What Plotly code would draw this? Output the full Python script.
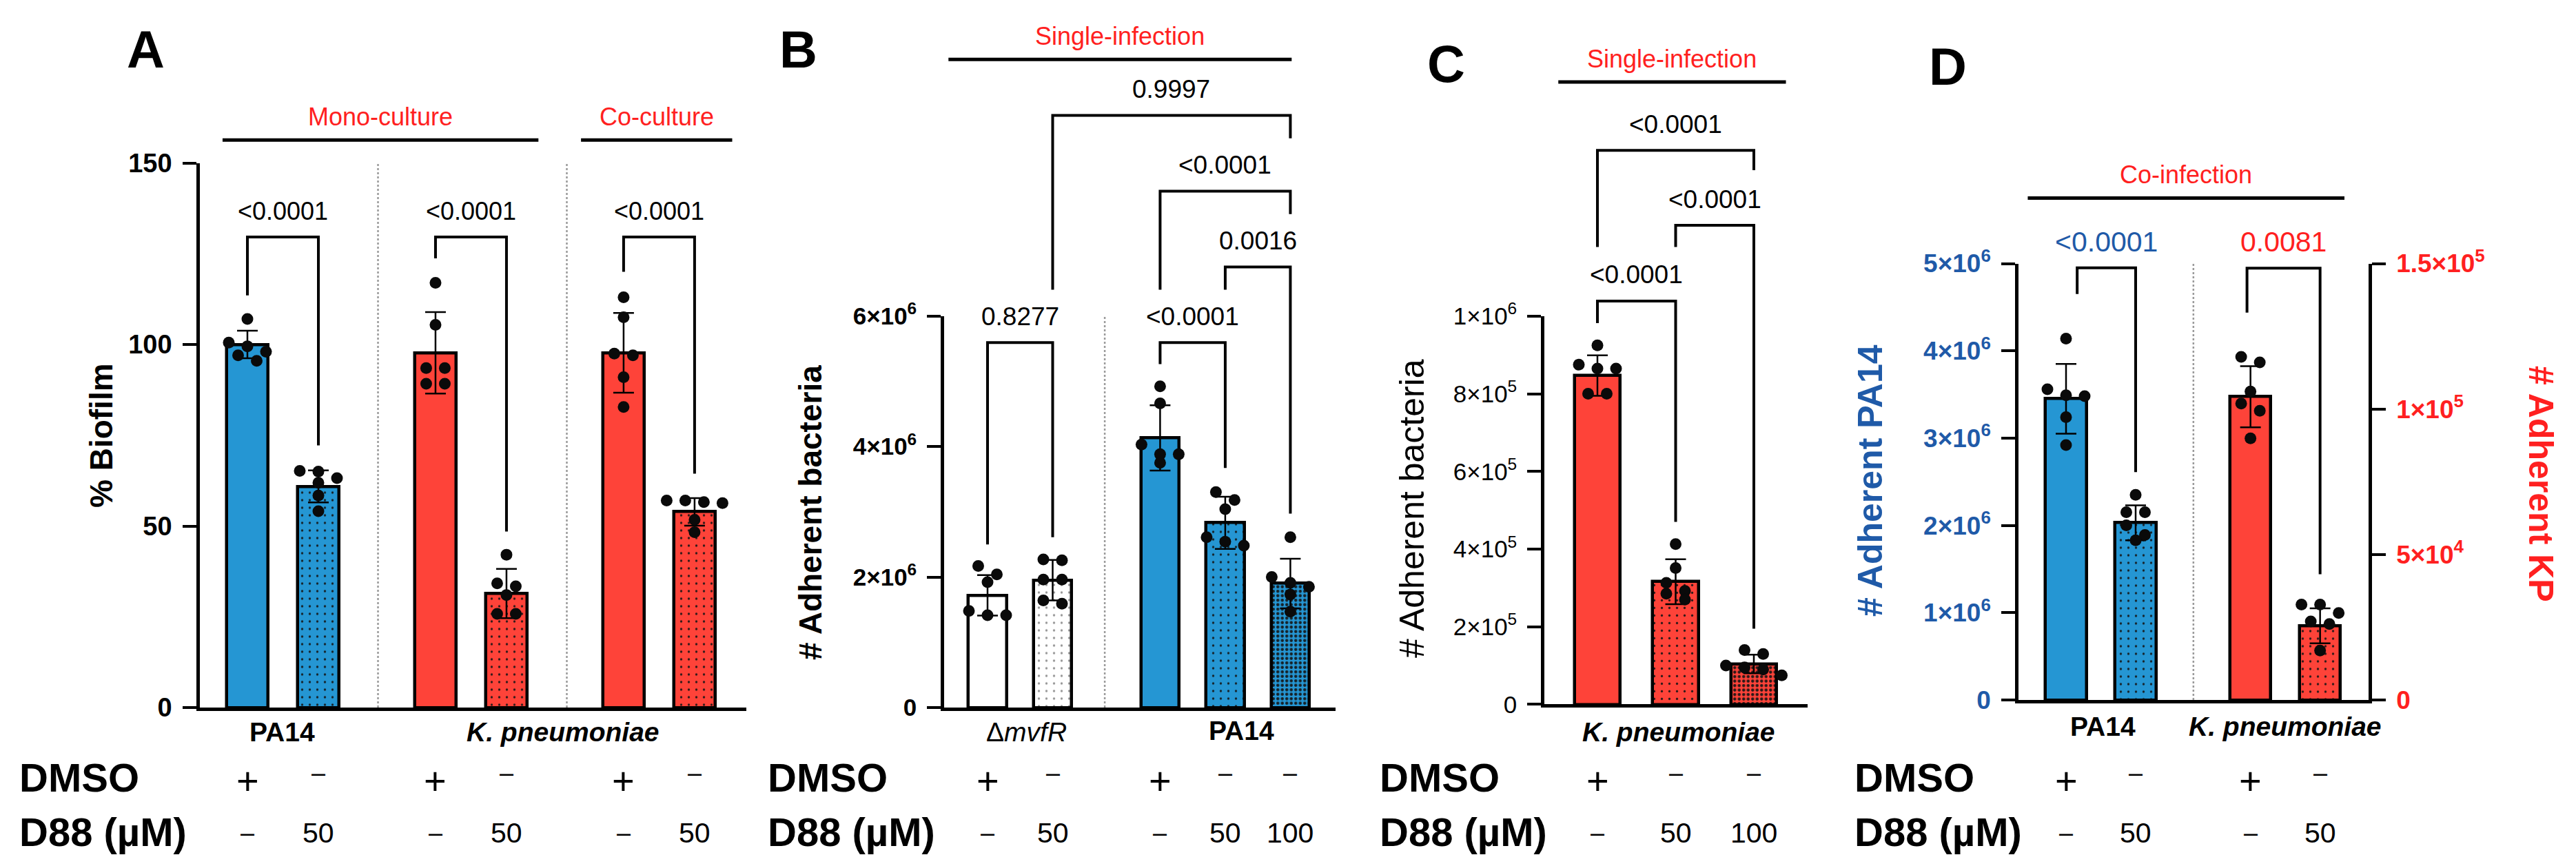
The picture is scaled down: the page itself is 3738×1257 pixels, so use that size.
import plotly.graph_objects as go

W, H = 3738, 1257
FONT = "Liberation Sans, Arial, Helvetica, sans-serif"
BLUE = "#2596d3"
RED = "#fe4339"
WHITE = "#ffffff"
TXT_RED = "#ff2020"
TXT_BLUE = "#1f5aa8"

# ---------------- values ----------------
# A  (% biofilm)
A_MEAN = [100.0, 60.9, 97.7, 31.4, 97.7, 53.9]
A_SD = [3.8, 4.4, 11.2, 6.8, 11.0, 3.8]
A_PTS = [
    [107.0, 100.5, 99.5, 98.0, 97.0, 95.5],
    [65.2, 65.0, 63.2, 61.9, 58.4, 54.1],
    [117.0, 105.4, 93.5, 93.5, 89.2, 89.2],
    [42.1, 34.2, 33.4, 31.0, 25.8, 25.8],
    [113.0, 107.5, 97.5, 97.0, 91.0, 82.8],
    [57.0, 57.0, 56.6, 56.3, 51.7, 48.3],
]
A_DMSO = ["+", "-", "+", "-", "+", "-"]
A_D88 = ["-", "50", "-", "50", "-", "50"]
A_P = ["<0.0001", "<0.0001", "<0.0001"]

# B  (# adherent bacteria, single infection)
B_MEAN = [1.72e6, 1.95e6, 4.13e6, 2.83e6, 1.90e6]
B_SD = [0.31e6, 0.31e6, 0.50e6, 0.40e6, 0.38e6]
B_PTS = [
    [2.17e6, 2.04e6, 1.92e6, 1.48e6, 1.415e6, 1.415e6],
    [2.27e6, 2.255e6, 1.96e6, 1.96e6, 1.64e6, 1.59e6],
    [4.92e6, 4.66e6, 4.03e6, 3.88e6, 3.88e6, 3.75e6],
    [3.30e6, 3.18e6, 3.04e6, 2.61e6, 2.54e6, 2.48e6],
    [2.61e6, 2.00e6, 1.91e6, 1.85e6, 1.73e6, 1.47e6],
]
B_DMSO = ["+", "-", "+", "-", "-"]
B_D88 = ["-", "50", "-", "50", "100"]
B_P = ["0.8277", "<0.0001", "0.0016", "<0.0001", "0.9997"]

# C  (K. pneumoniae single infection)
C_MEAN = [8.47e5, 3.16e5, 1.04e5]
C_SD = [0.52e5, 0.58e5, 0.24e5]
C_PTS = [
    [9.25e5, 8.75e5, 8.65e5, 8.65e5, 8.0e5, 8.0e5],
    [4.13e5, 3.51e5, 3.13e5, 2.92e5, 2.85e5, 2.70e5],
    [1.40e5, 1.30e5, 1.00e5, 0.95e5, 0.90e5, 0.75e5],
]
C_DMSO = ["+", "-", "-"]
C_D88 = ["-", "50", "100"]
C_P = ["<0.0001", "<0.0001", "<0.0001"]

# D  (co-infection: PA14 on left axis, KP on right axis)
D_PA_MEAN = [3.45e6, 2.03e6]
D_PA_SD = [0.40e6, 0.20e6]
D_PA_PTS = [
    [4.14e6, 3.56e6, 3.49e6, 3.48e6, 3.24e6, 2.92e6],
    [2.35e6, 2.15e6, 2.15e6, 2.00e6, 1.89e6, 1.83e6],
]
D_KP_MEAN = [10.42e4, 2.55e4]
D_KP_SD = [1.05e4, 0.60e4]
D_KP_PTS = [
    [11.79e4, 11.60e4, 10.60e4, 10.19e4, 9.94e4, 8.99e4],
    [3.28e4, 3.28e4, 2.99e4, 2.70e4, 2.61e4, 1.70e4],
]
D_DMSO = ["+", "-", "+", "-"]
D_D88 = ["-", "50", "-", "50"]
D_P = ["<0.0001", "0.0081"]

# ---------------- layout geometry (screen px) ----------------
# ax: y-axis x, end: x-axis end, org: centre of slot 0, unit: px per slot,
# y0: baseline y, ppv: px per value unit
GA = dict(ax=282, end=1075, org=351, unit=103, y0=1019, ppv=5.27)
GB = dict(ax=1362, end=1930, org=1425, unit=94.5, y0=1019, ppv=94.75e-6)
GC = dict(ax=2233, end=2615, org=2310, unit=113.5, y0=1014.4, ppv=56.35e-5)
GD = dict(ax=2921, end=3429, org=2990, unit=101, y0=1008, ppv=126.7e-6)
KP_SCALE = 5e6 / 1.5e5  # right axis of D -> left axis units

A_POS = [0, 1, 2.65, 3.65, 5.3, 6.3]
B_POS = [0, 1, 2.65, 3.65, 4.65]
C_POS = [0, 1, 2]
D_PA_POS = [0, 1]
D_KP_POS = [2.65, 3.65]

A_COL = [BLUE, BLUE, RED, RED, RED, RED]
A_FILL = ["plain", "sparse", "plain", "sparse", "plain", "sparse"]
B_COL = [WHITE, WHITE, BLUE, BLUE, BLUE]
B_FILL = ["plain", "sparse", "plain", "sparse", "dense"]
C_COL = [RED, RED, RED]
C_FILL = ["plain", "sparse", "dense"]

PATTERN = {"plain": ("", 10, 0.1), "sparse": (".", 11, 0.07), "dense": (".", 6.5, 0.38)}


def xdomain(g):
    return [g["ax"] / W, g["end"] / W]


def xrange_(g):
    return [(g["ax"] - g["org"]) / g["unit"], (g["end"] - g["org"]) / g["unit"]]


def ydomain(g, top):
    lo = 1 - g["y0"] / H
    return [lo, lo + top * g["ppv"] / H]


def yfull(g):
    return dict(domain=[1 - g["y0"] / H, 1], range=[0, g["y0"] / g["ppv"]],
                visible=False, fixedrange=True)


def py(px):
    return 1 - px / H


def swarm(vals, g, dot=17.0, step=27.0):
    order = sorted(range(len(vals)), key=lambda i: -vals[i])
    groups = []
    for i in order:
        y = vals[i] * g["ppv"]
        if groups and groups[-1][0] - y < dot * 0.85:
            groups[-1][1].append(i)
        else:
            groups.append([y, [i]])
    offs = [0.0] * len(vals)
    for _, members in groups:
        k = len(members)
        for j, i in enumerate(members):
            offs[i] = (j - (k - 1) / 2) * step / g["unit"]
    return offs


fig = go.Figure()


def add_bars(xa, ya, pos, mean, sd, cols, fills, pts, g):
    for p, m, s, c, f in zip(pos, mean, sd, cols, fills):
        shape, size, solid = PATTERN[f]
        fig.add_trace(go.Bar(
            x=[p], y=[m], width=0.585, xaxis=xa, yaxis=ya,
            marker=dict(color=c, line=dict(color="black", width=4.5),
                        pattern=dict(shape=shape, size=size, solidity=solid,
                                     fgcolor="#8a8a8a" if c == WHITE else "#141414",
                                     bgcolor=c, fgopacity=0.9, fillmode="replace")),
            error_y=dict(type="data", array=[s], color="black", thickness=2.5, width=15),
            showlegend=False, hoverinfo="skip",
        ))
    xs, ys = [], []
    for p, vals in zip(pos, pts):
        xs += [p + o for o in swarm(vals, g)]
        ys += vals
    fig.add_trace(go.Scatter(
        x=xs, y=ys, mode="markers", xaxis=xa, yaxis=ya, cliponaxis=False,
        marker=dict(size=17, color="#0a0a0a"), showlegend=False, hoverinfo="skip",
    ))


def note(x, y, text, xref="paper", yref="paper", size=38, color="black", angle=0,
         xanchor="center", yshift=0):
    fig.add_annotation(x=x, y=y, xref=xref, yref=yref, text=text, showarrow=False,
                       textangle=angle, xanchor=xanchor, yanchor="middle", yshift=yshift,
                       font=dict(size=size, color=color))


def add_bracket(xa, yb, x0, x1, top, yl, yr, text, size, color="black"):
    fig.add_shape(type="path", xref=xa, yref=yb,
                  path=f"M {x0},{yl} L {x0},{top} L {x1},{top} L {x1},{yr}",
                  line=dict(color="black", width=4))
    note((x0 + x1) / 2, top, text, xref=xa, yref=yb, size=size, color=color, yshift=38)


def add_header(xa, yb, x0, x1, y, text):
    fig.add_shape(type="line", xref=xa, yref=yb, x0=x0, x1=x1, y0=y, y1=y,
                  line=dict(color="black", width=5))
    note((x0 + x1) / 2, y, text, xref=xa, yref=yb, size=36, color=TXT_RED, yshift=34)


def add_separator(xa, ya, x, top):
    fig.add_shape(type="line", xref=xa, yref=ya, x0=x, x1=x, y0=0, y1=top, layer="below",
                  line=dict(color="#9a9a9a", width=2.5, dash="dot"))


def add_rows(xa, pos, dmso, d88, label_px):
    note(label_px / W, py(1120), "<b>DMSO</b>", size=58, xanchor="left")
    note(label_px / W, py(1199), "<b>D88 (µM)</b>", size=58, xanchor="left")
    for p, s in zip(pos, dmso):
        if s == "+":
            note(p, py(1125), "+", xref=xa, size=56)
        else:
            note(p, py(1113), "–", xref=xa, size=36)
    for p, s in zip(pos, d88):
        if s == "-":
            note(p, py(1200), "–", xref=xa, size=36)
        else:
            note(p, py(1201), s, xref=xa, size=41)


# ---------------- panel A ----------------
add_bars("x", "y", A_POS, A_MEAN, A_SD, A_COL, A_FILL, A_PTS, GA)
for x in (1.84, 4.5):
    add_separator("x", "y", x, 150)
for (x0, x1, top, yl, yr), p in zip(
        [(0, 1, 129.6, 113.5, 72.2), (2.65, 3.65, 129.6, 123.7, 48.5), (5.3, 6.3, 129.6, 120.0, 64.4)],
        A_P):
    add_bracket("x", "y6", x0, x1, top, yl, yr, p, 36)
add_header("x", "y6", -0.35, 4.1, 156.3, "Mono-culture")
add_header("x", "y6", 4.7, 6.83, 156.3, "Co-culture")
add_rows("x", A_POS, A_DMSO, A_D88, 18)
note(0.49, py(1054), "<b>PA14</b>", xref="x", size=39)
note(4.45, py(1054), "<b><i>K. pneumoniae</i></b>", xref="x", size=39)
note(139 / W, py(624), "<b>% Biofilm</b>", size=46, angle=-90)
note(203 / W, py(63), "<b>A</b>", size=76)

# ---------------- panel B ----------------
add_bars("x2", "y2", B_POS, B_MEAN, B_SD, B_COL, B_FILL, B_PTS, GB)
add_separator("x2", "y2", 1.8, 6e6)
for (x0, x1, top, yl, yr), p in zip(
        [(0, 1, 5.59e6, 2.5e6, 2.61e6), (2.65, 3.65, 5.59e6, 5.26e6, 3.67e6),
         (3.65, 4.65, 6.75e6, 6.4e6, 2.97e6), (2.65, 4.65, 7.91e6, 6.4e6, 7.56e6),
         (1, 4.65, 9.07e6, 6.4e6, 8.72e6)],
        B_P):
    add_bracket("x2", "y7", x0, x1, top, yl, yr, p, 37)
add_header("x2", "y7", -0.6, 4.67, 9.93e6, "Single-infection")
add_rows("x2", B_POS, B_DMSO, B_D88, 1104)
note(0.6, py(1054), "Δ<i>mvfR</i>", xref="x2", size=39)
note(3.9, py(1052), "<b>PA14</b>", xref="x2", size=39)
note(1168 / W, py(736), "<b># Adherent bacteria</b>", size=46, angle=-90)
note(1150 / W, py(63), "<b>B</b>", size=76)

# ---------------- panel C ----------------
add_bars("x3", "y3", C_POS, C_MEAN, C_SD, C_COL, C_FILL, C_PTS, GC)
for (x0, x1, top, yl, yr), p in zip(
        [(0, 1, 10.39e5, 9.82e5, 4.7e5), (1, 2, 12.34e5, 11.78e5, 1.95e5),
         (0, 2, 14.27e5, 11.78e5, 13.76e5)],
        C_P):
    add_bracket("x3", "y8", x0, x1, top, yl, yr, p, 37)
add_header("x3", "y8", -0.5, 2.41, 16.03e5, "Single-infection")
add_rows("x3", C_POS, C_DMSO, C_D88, 1992)
note(1.04, py(1054), "<b><i>K. pneumoniae</i></b>", xref="x3", size=39)
note(2041 / W, py(730), "# Adherent bacteria", size=50, angle=-90)
note(2090 / W, py(84), "<b>C</b>", size=76)

# ---------------- panel D ----------------
add_bars("x4", "y4", D_PA_POS, D_PA_MEAN, D_PA_SD, [BLUE, BLUE], ["plain", "sparse"], D_PA_PTS, GD)
GD_KP = dict(GD, ppv=GD["ppv"] * KP_SCALE)
add_bars("x4", "y5", D_KP_POS, D_KP_MEAN, D_KP_SD, [RED, RED], ["plain", "sparse"], D_KP_PTS, GD_KP)
add_separator("x4", "y4", 1.83, 5e6)
add_bracket("x4", "y9", 0.16, 1, 4.95e6, 4.65e6, 2.61e6, D_P[0], 41, TXT_BLUE)
add_bracket("x4", "y9", 2.6, 3.65, 14.84e4 * KP_SCALE, 13.31e4 * KP_SCALE, 4.32e4 * KP_SCALE,
            D_P[1], 41, TXT_RED)
add_header("x4", "y9", -0.55, 4.0, 5.75e6, "Co-infection")
add_rows("x4", D_PA_POS + D_KP_POS, D_DMSO, D_D88, 2681)
note(0.53, py(1046), "<b>PA14</b>", xref="x4", size=39)
note(3.15, py(1046), "<b><i>K. pneumoniae</i></b>", xref="x4", size=39)
note(2706 / W, py(690), "<b># Adherent PA14</b>", size=50, color=TXT_BLUE, angle=-90)
note(3679 / W, py(694), "<b># Adherent KP</b>", size=50, color=TXT_RED, angle=90)
note(2818 / W, py(88), "<b>D</b>", size=76)

# empty traces so the bracket overlays exist as subplots
for xa, yb in (("x", "y6"), ("x2", "y7"), ("x3", "y8"), ("x4", "y9")):
    fig.add_trace(go.Scatter(x=[], y=[], xaxis=xa, yaxis=yb, showlegend=False, hoverinfo="skip"))

# ---------------- axes ----------------
XAX = dict(showline=True, linewidth=4.5, linecolor="black", showgrid=False, zeroline=False,
           showticklabels=False, ticks="", fixedrange=True)
YAX = dict(showline=True, linewidth=4.5, linecolor="black", showgrid=False, zeroline=False,
           ticks="outside", ticklen=20, tickwidth=4, tickcolor="black", ticklabelstandoff=8,
           fixedrange=True, automargin=False)


def sci(v, e):
    return f"{v}×10<sup>{e}</sup>"


fig.update_layout(
    width=W, height=H,
    margin=dict(l=0, r=0, t=0, b=0),
    paper_bgcolor="white", plot_bgcolor="rgba(0,0,0,0)",
    font=dict(family=FONT, color="black"),
    bargap=0, barmode="overlay",
    xaxis=dict(domain=xdomain(GA), range=xrange_(GA), anchor="y", **XAX),
    yaxis=dict(domain=ydomain(GA, 150), range=[0, 150], anchor="x",
               tickvals=[0, 50, 100, 150], tickfont=dict(size=38),
               ticktext=["<b>0</b>", "<b>50</b>", "<b>100</b>", "<b>150</b>"], **YAX),
    xaxis2=dict(domain=xdomain(GB), range=xrange_(GB), anchor="y2", **XAX),
    yaxis2=dict(domain=ydomain(GB, 6e6), range=[0, 6e6], anchor="x2",
                tickvals=[0, 2e6, 4e6, 6e6], tickfont=dict(size=35),
                ticktext=["<b>0</b>"] + [f"<b>{sci(v, 6)}</b>" for v in (2, 4, 6)], **YAX),
    xaxis3=dict(domain=xdomain(GC), range=xrange_(GC), anchor="y3", **XAX),
    yaxis3=dict(domain=ydomain(GC, 1e6), range=[0, 1e6], anchor="x3",
                tickvals=[0, 2e5, 4e5, 6e5, 8e5, 1e6], tickfont=dict(size=35),
                ticktext=["0"] + [sci(v, 5) for v in (2, 4, 6, 8)] + [sci(1, 6)], **YAX),
    xaxis4=dict(domain=xdomain(GD), range=xrange_(GD), anchor="y4", **XAX),
    yaxis4=dict(domain=ydomain(GD, 5e6), range=[0, 5e6], anchor="x4",
                tickvals=[0, 1e6, 2e6, 3e6, 4e6, 5e6], tickfont=dict(size=37, color=TXT_BLUE),
                ticktext=["<b>0</b>"] + [f"<b>{sci(v, 6)}</b>" for v in (1, 2, 3, 4, 5)], **YAX),
    yaxis5=dict(overlaying="y4", side="right", range=[0, 1.5e5], anchor="x4",
                tickvals=[0, 5e4, 1e5, 1.5e5], tickfont=dict(size=37, color=TXT_RED),
                ticktext=["<b>0</b>", f"<b>{sci(5, 4)}</b>", f"<b>{sci(1, 5)}</b>",
                          f"<b>{sci(1.5, 5)}</b>"], **YAX),
    yaxis6=dict(anchor="x", **yfull(GA)),
    yaxis7=dict(anchor="x2", **yfull(GB)),
    yaxis8=dict(anchor="x3", **yfull(GC)),
    yaxis9=dict(anchor="x4", **yfull(GD)),
)

fig.write_html("out.html")
